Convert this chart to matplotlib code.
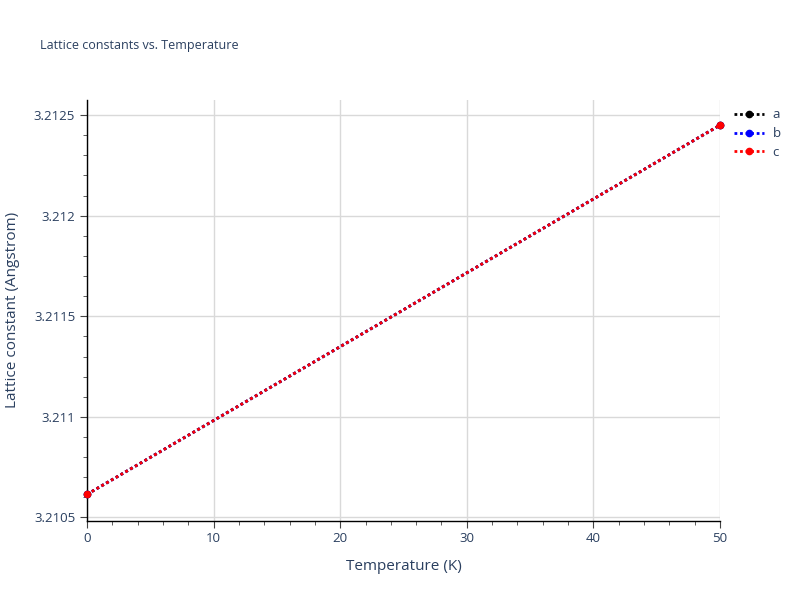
import matplotlib
matplotlib.use("Agg")
import matplotlib.pyplot as plt
from matplotlib.ticker import MultipleLocator

# data (two points per series)
temperature = [0, 50]
lat_a = [3.210615, 3.212450]
lat_b = [3.210615, 3.212450]
lat_c = [3.210615, 3.212450]

series = [("a", lat_a, "black"), ("b", lat_b, "blue"), ("c", lat_c, "red")]
text_col = "#2a3f5f"

plt.rcParams["font.family"] = ["Open Sans", "DejaVu Sans"]

fig = plt.figure(figsize=(8, 6), dpi=100)
ax = fig.add_axes([87 / 800, (600 - 520.5) / 600, (720 - 87) / 800, (520.5 - 100) / 600])

for name, vals, col in series:
    ax.plot(temperature, vals, linestyle=(0, (1, 1)), linewidth=2, color=col,
            marker="o", markersize=4.5, label=name, clip_on=False, zorder=3)

ax.set_xlim(0, 50)
ax.set_ylim(3.210485, 3.212575)
ax.xaxis.set_major_locator(MultipleLocator(10))
ax.xaxis.set_minor_locator(MultipleLocator(2))
ax.yaxis.set_major_locator(MultipleLocator(0.0005))
ax.yaxis.set_minor_locator(MultipleLocator(0.0001))
ax.yaxis.set_major_formatter(plt.FuncFormatter(lambda v, p: f"{v:.4f}".rstrip("0").rstrip(".")))

ax.grid(True, which="major", color="#d9d9d9", linewidth=1)
ax.set_axisbelow(True)
for s in ["top", "right"]:
    ax.spines[s].set_visible(False)
for s in ["left", "bottom"]:
    ax.spines[s].set_color("black")
    ax.spines[s].set_linewidth(1)

ax.tick_params(which="major", direction="out", length=5, color="#444444",
               labelcolor=text_col, labelsize=9.5)
ax.tick_params(which="minor", direction="out", length=3, color="#444444")

ax.set_xlabel("Temperature (K)", color=text_col, fontsize=11, labelpad=10)
ax.set_ylabel("Lattice constant (Angstrom)", color=text_col, fontsize=11, labelpad=10)

fig.text(40 / 800, 1 - 45 / 600, "Lattice constants vs. Temperature",
         color=text_col, fontsize=9, va="center", ha="left")

leg = ax.legend(loc="upper left", bbox_to_anchor=(1.014, 0.993), frameon=False,
                fontsize=9.5, handlelength=2.3, handletextpad=0.6, labelspacing=0.45,
                borderaxespad=0.0)
for t in leg.get_texts():
    t.set_color(text_col)

fig.savefig("out.png", dpi=100, facecolor="white")
